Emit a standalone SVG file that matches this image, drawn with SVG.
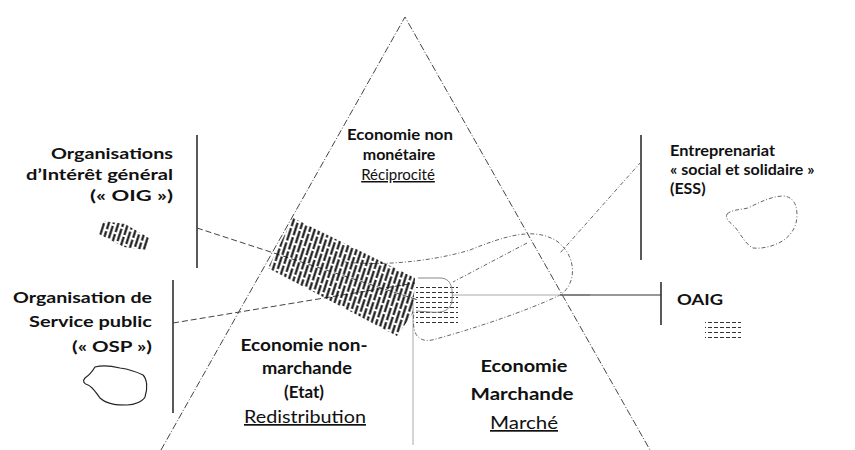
<svg xmlns="http://www.w3.org/2000/svg" width="855" height="450" viewBox="0 0 855 450">
<style>
.t{font-family:Lato,"Liberation Sans",sans-serif;font-weight:bold;fill:#111}
.s15{font-size:15px}
.s16{font-size:16px}
.s17{font-size:17px}
.n{font-weight:normal;text-decoration:underline}
.tri{stroke:#444;stroke-width:1;stroke-dasharray:7 2 1 2;fill:none}
.bar{stroke:#222;stroke-width:1.5;fill:none}
.conn{stroke:#444;stroke-width:1;stroke-dasharray:6 3;fill:none}
.dd{stroke:#666;stroke-width:1;stroke-dasharray:4 2 1 2;fill:none}
.thin{stroke:#aaa;stroke-width:1;fill:none}
</style>
<defs>
<pattern id="hatch" width="9.2" height="30" patternUnits="userSpaceOnUse" patternTransform="rotate(18)">
<line x1="2.3" y1="0" x2="2.3" y2="30" stroke="#111" stroke-width="2.1" stroke-dasharray="13 2"/>
<line x1="6.9" y1="0" x2="6.9" y2="30" stroke="#111" stroke-width="2.1" stroke-dasharray="13 2" stroke-dashoffset="8"/>
</pattern>
<pattern id="dashes" width="6" height="5" patternUnits="userSpaceOnUse">
<line x1="0" y1="2.5" x2="4" y2="2.5" stroke="#333" stroke-width="1"/>
</pattern>
</defs>
<rect width="855" height="450" fill="#fff"/>

<g id="triangle">
<path class="tri" d="M161,450 L405,17 L650,450"/>
<line class="thin" x1="413" y1="303" x2="413" y2="445"/>
</g>

<g id="loop">
<path class="dd" d="M345,262 C380,266 430,262 470,250 C505,236 535,226 558,242 C578,258 576,285 560,295 C530,310 470,330 432,340 C414,343 412,328 414,312"/>
</g>

<g id="connectors">
<line class="bar" x1="197" y1="135" x2="197" y2="268"/>
<line class="bar" x1="173" y1="280" x2="173" y2="413"/>
<line class="bar" x1="641" y1="135" x2="641" y2="260"/>
<line class="bar" x1="661" y1="282" x2="661" y2="325"/>
<line class="conn" x1="197" y1="228" x2="418" y2="300"/>
<line class="conn" x1="173" y1="323" x2="415" y2="283"/>
<line class="dd" x1="641" y1="162" x2="560" y2="253"/>
<line class="dd" x1="527" y1="243" x2="453" y2="282"/>
<line stroke="#aaa" stroke-width="1" x1="452" y1="295" x2="590" y2="295"/>
<line stroke="#333" stroke-width="1.2" x1="560" y1="295" x2="661" y2="295"/>
</g>

<g id="center-blob">
<rect x="416" y="283" width="42" height="40" fill="url(#dashes)"/>
<path d="M418,278 L440,278 C452,278 453,290 452,300 C451,312 440,313 430,312 L416,311" stroke="#888" stroke-width="1" fill="none"/>
</g>

<g id="band">
<polygon points="293,218 415,278 413,313 397,336 268,268" fill="url(#hatch)"/>
</g>

<g id="oig">
<text class="t s15" text-anchor="end" x="173" y="159" textLength="122" lengthAdjust="spacingAndGlyphs">Organisations</text>
<text class="t s15" text-anchor="end" x="173" y="180" textLength="147" lengthAdjust="spacingAndGlyphs">d’Intérêt général</text>
<text class="t s15" text-anchor="end" x="173" y="201" textLength="83" lengthAdjust="spacingAndGlyphs">(« OIG »)</text>
<polygon points="103,221 125,224 149,238 146,250 124,247 99,234" fill="url(#hatch)"/>
</g>

<g id="osp">
<text class="t s15" text-anchor="end" x="152" y="303" textLength="139" lengthAdjust="spacingAndGlyphs">Organisation de</text>
<text class="t s15" text-anchor="end" x="152" y="327" textLength="123" lengthAdjust="spacingAndGlyphs">Service public</text>
<text class="t s15" text-anchor="end" x="152" y="352" textLength="80" lengthAdjust="spacingAndGlyphs">(« OSP »)</text>
<path d="M95,367 C102,365 112,366 120,368 C127,369 133,370 143,375 C147,379 148,388 145,397 C143,401 135,405 127,405 C118,405 108,405 100,398 C96,393 93,387 88,385 C84,384 82,381 85,378 C88,376 92,372 95,367 Z" stroke="#222" stroke-width="1.2" fill="none"/>
</g>

<g id="ess">
<text class="t s16" x="670" y="156" textLength="105" lengthAdjust="spacingAndGlyphs">Entreprenariat</text>
<text class="t s16" x="670" y="175">« social et solidaire »</text>
<text class="t s16" x="670" y="194">(ESS)</text>
<path class="dd" d="M727,214 C733,209 740,210 748,208 C760,202 770,197 782,196 C792,196 797,203 797,215 C797,226 792,234 784,240 C775,246 763,249 753,248 C745,244 741,234 734,226 C729,222 725,218 727,214 Z"/>
</g>

<g id="oaig">
<text class="t s16" x="677" y="305" textLength="46" lengthAdjust="spacingAndGlyphs">OAIG</text>
<rect x="705" y="318" width="36" height="24" fill="url(#dashes)"/>
</g>

<g id="reciprocite">
<text class="t s16" text-anchor="middle" x="400" y="140" textLength="106" lengthAdjust="spacingAndGlyphs">Economie non</text>
<text class="t s16" text-anchor="middle" x="399" y="160">monétaire</text>
<text class="t s15 n" text-anchor="middle" x="398" y="180">Réciprocité</text>
</g>

<g id="redistribution">
<text class="t s17" text-anchor="middle" x="304" y="351" textLength="127" lengthAdjust="spacingAndGlyphs">Economie non-</text>
<text class="t s17" text-anchor="middle" x="307" y="374" textLength="90" lengthAdjust="spacingAndGlyphs">marchande</text>
<text class="t s17" text-anchor="middle" x="304" y="398">(Etat)</text>
<text class="t s17 n" text-anchor="middle" x="305" y="423" textLength="122" lengthAdjust="spacingAndGlyphs">Redistribution</text>
</g>

<g id="marche">
<text class="t s17" text-anchor="middle" x="524" y="372" textLength="87" lengthAdjust="spacingAndGlyphs">Economie</text>
<text class="t s17" text-anchor="middle" x="522" y="400" textLength="103" lengthAdjust="spacingAndGlyphs">Marchande</text>
<text class="t s17 n" text-anchor="middle" x="524" y="429" textLength="68" lengthAdjust="spacingAndGlyphs">Marché</text>
</g>
</svg>
